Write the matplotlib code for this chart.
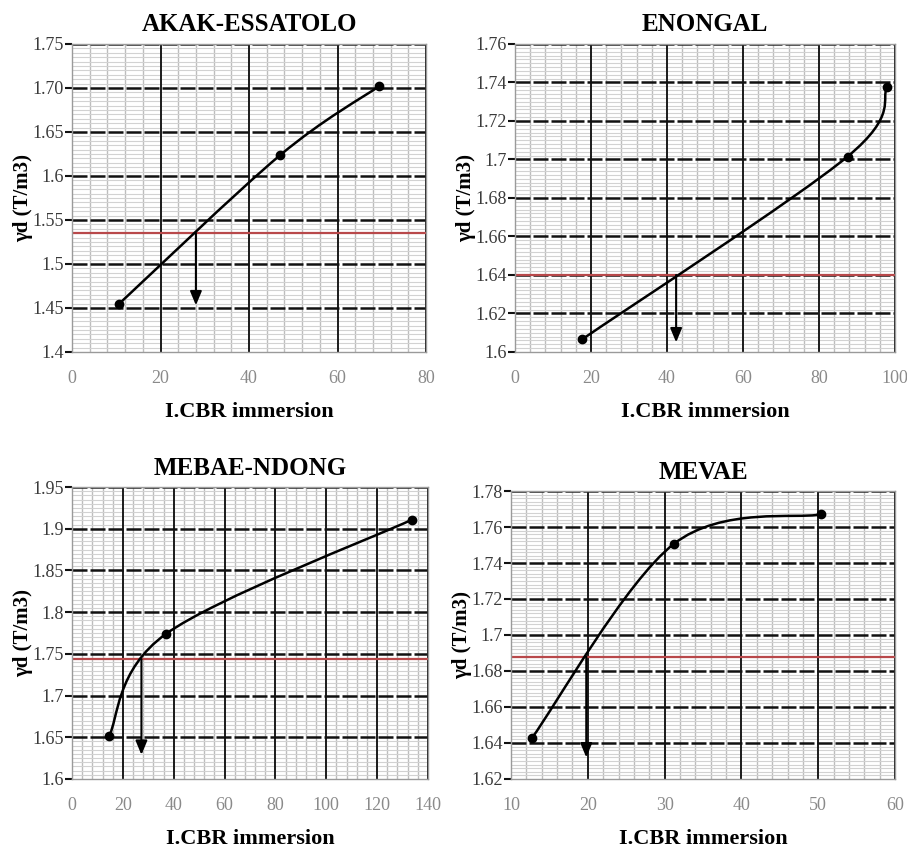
import numpy as np
import matplotlib
matplotlib.use("Agg")
import matplotlib.pyplot as plt
from matplotlib.path import Path
from matplotlib.patches import PathPatch

plt.rcParams["font.family"] = ["Liberation Serif", "DejaVu Serif"]

# dry density vs soaked CBR index, one panel per site
titles = ["AKAK-ESSATOLO", "ENONGAL", "MEBAE-NDONG", "MEVAE"]

akak_cbr = [10.6, 47.0, 69.4]
akak_gd = [1.4545, 1.6235, 1.702]

enongal_cbr = [17.7, 87.5, 97.9]
enongal_gd = [1.6066, 1.7015, 1.7375]

mebae_cbr = [14.5, 37.0, 133.8]
mebae_gd = [1.651, 1.774, 1.911]

mevae_cbr = [12.7, 31.2, 50.3]
mevae_gd = [1.6426, 1.7506, 1.767]

target_gd = [1.535, 1.64, 1.7435, 1.688]
read_cbr = [28.0, 42.4, 27.3, 19.8]
arrow_end = [1.453, 1.605, 1.629, 1.632]

x_ticks = [[0, 20, 40, 60, 80],
           [0, 20, 40, 60, 80, 100],
           [0, 20, 40, 60, 80, 100, 120, 140],
           [10, 20, 30, 40, 50, 60]]
y_ticks = [[1.4, 1.45, 1.5, 1.55, 1.6, 1.65, 1.70, 1.75],
           [1.6, 1.62, 1.64, 1.66, 1.68, 1.7, 1.72, 1.74, 1.76],
           [1.6, 1.65, 1.7, 1.75, 1.8, 1.85, 1.9, 1.95],
           [1.62, 1.64, 1.66, 1.68, 1.7, 1.72, 1.74, 1.76, 1.78]]
y_labels = [["1.4", "1.45", "1.5", "1.55", "1.6", "1.65", "1.70", "1.75"],
            ["1.6", "1.62", "1.64", "1.66", "1.68", "1.7", "1.72", "1.74", "1.76"],
            ["1.6", "1.65", "1.7", "1.75", "1.8", "1.85", "1.9", "1.95"],
            ["1.62", "1.64", "1.66", "1.68", "1.7", "1.72", "1.74", "1.76", "1.78"]]
x_minor_step = [4, 4, 4, 2]

series = [(akak_cbr, akak_gd), (enongal_cbr, enongal_gd),
          (mebae_cbr, mebae_gd), (mevae_cbr, mevae_gd)]


def smooth_path(xs, ys):
    # spreadsheet-style smoothed line: cubic bezier through every point
    pts = np.column_stack([xs, ys]).astype(float)
    n = len(pts)
    verts = [pts[0]]
    codes = [Path.MOVETO]
    for i in range(n - 1):
        p0 = pts[i - 1] if i > 0 else pts[i]
        p1 = pts[i]
        p2 = pts[i + 1]
        p3 = pts[i + 2] if i + 2 < n else pts[i + 1]
        c1 = p1 + (p2 - p0) / 6.0
        c2 = p2 - (p3 - p1) / 6.0
        verts += [c1, c2, p2]
        codes += [Path.CURVE4] * 3
    return Path(verts, codes)


fig = plt.figure(figsize=(9.07, 8.52), dpi=100)
rects = [[0.0794, 0.5869, 0.3903, 0.3615],
         [0.5678, 0.5869, 0.4190, 0.3615],
         [0.0794, 0.0857, 0.3925, 0.3427],
         [0.5634, 0.0857, 0.4234, 0.3380]]

for k in range(4):
    ax = fig.add_axes(rects[k])
    xs, ys = series[k]
    xt, yt = x_ticks[k], y_ticks[k]
    ax.set_xlim(xt[0], xt[-1])
    ax.set_ylim(yt[0], yt[-1])
    ax.set_xticks(xt)
    ax.set_yticks(yt)
    ax.set_yticklabels(y_labels[k])
    ax.set_xticks(np.arange(xt[0], xt[-1] + 1e-9, x_minor_step[k]), minor=True)
    ystep = (yt[1] - yt[0]) / 10.0
    ax.set_yticks(np.arange(yt[0], yt[-1] + 1e-9, ystep), minor=True)
    ax.grid(which="minor", axis="y", color="#d2d2d2", lw=0.8, zorder=0)
    ax.grid(which="minor", axis="x", color="#bdbdbd", lw=1.0, zorder=0)
    ax.set_axisbelow(True)

    # major grid: solid verticals, dashed horizontals
    for xv in xt[1:]:
        ax.axvline(xv, color="#1a1a1a", lw=1.4, zorder=1)
    for yv in yt[1:]:
        ax.axhline(yv, color="#111111", lw=1.8, ls=(0, (6, 1.2)), zorder=1)

    for sp in ax.spines.values():
        sp.set_color("#9a9a9a")
        sp.set_linewidth(1.0)

    ax.tick_params(axis="y", which="major", direction="out", length=5, width=1.5,
                   color="#111111", labelsize=13, labelcolor="#3a3a3a", pad=1)
    ax.tick_params(axis="x", which="major", length=0, labelsize=13,
                   labelcolor="#8a8a8a", pad=13)
    ax.tick_params(which="minor", length=0)

    ax.axhline(target_gd[k], color="#b8484a", lw=1.6, zorder=2)

    ax.add_patch(PathPatch(smooth_path(xs, ys), fill=False, edgecolor="black",
                           lw=1.8, zorder=3))
    ax.plot(xs, ys, "o", color="black", ms=6, zorder=4)

    ax.annotate("", xy=(read_cbr[k], arrow_end[k]),
                xytext=(read_cbr[k], target_gd[k]),
                arrowprops=dict(arrowstyle="-|>,head_length=0.6,head_width=0.25",
                                color="black", lw=1.5, mutation_scale=14,
                                shrinkA=0, shrinkB=0),
                zorder=5)

    ax.set_title(titles[k], fontsize=18, fontweight="bold", pad=9)
    ax.set_xlabel("I.CBR immersion", fontsize=16, fontweight="bold", labelpad=11)
    ax.set_ylabel("γd (T/m3)", fontsize=15, fontweight="bold", labelpad=-1)

fig.savefig("out.png", dpi=100)
